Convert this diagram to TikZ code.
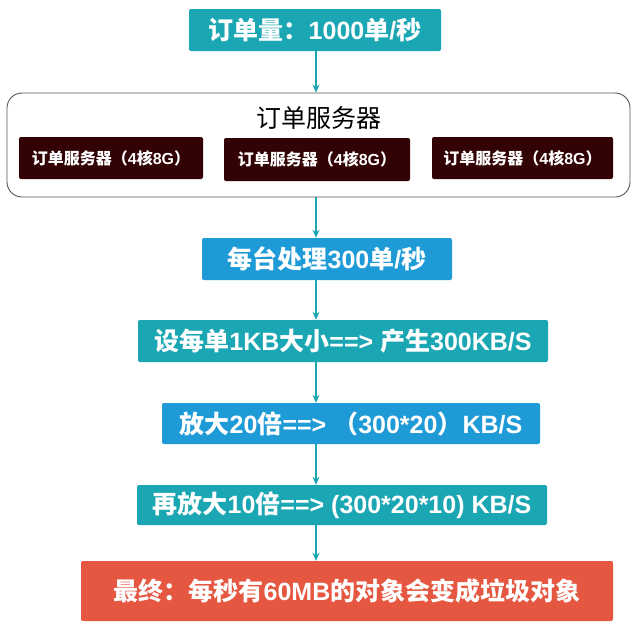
\documentclass[tikz,border=0pt]{standalone}
\usepackage{fontspec}
\setmainfont{Noto Sans CJK SC}
\newfontfamily\latinfont{Liberation Sans}
\newcommand{\lt}[1]{{\latinfont #1}}
\usetikzlibrary{arrows.meta}
\definecolor{tealc}{RGB}{26,166,178}
\definecolor{bluec}{RGB}{30,155,215}
\definecolor{darkc}{RGB}{50,2,4}
\definecolor{redc}{RGB}{229,87,64}
\definecolor{framec}{RGB}{85,85,85}
\tikzset{
  flowbox/.style={rectangle, rounded corners=2pt, text=white, inner sep=0pt,
    font=\fontsize{25}{28}\selectfont\bfseries, anchor=center},
  srvbox/.style={rectangle, rounded corners=2pt, fill=darkc, text=white, inner sep=0pt,
    font=\fontsize{16}{18}\selectfont\bfseries, minimum height=42pt},
  conn/.style={draw=tealc, line width=1.4pt, -{Stealth[length=8pt,width=7pt]}},
}
\begin{document}
\begin{tikzpicture}[x=1pt,y=-1pt]
\useasboundingbox (0,0) rectangle (638,625);
\fill[white] (0,0) rectangle (638,625);
\coordinate (ax) at (316,0);

\node[flowbox, fill=tealc, minimum width=252pt, minimum height=42pt] (top) at (315,30)
  {订单量：\lt{1000}单\lt{/}秒};

\node[draw=framec, line width=0.9pt, rounded corners=15pt, minimum width=623pt, minimum height=104pt, inner sep=0pt] (cont) at (318.5,145) {};
\node[font=\fontsize{25}{28}\selectfont, text=black] (title) at (319,118) {订单服务器};

\node[srvbox, minimum width=184pt] (s1) at (111,158) {订单服务器（\lt{4}核\lt{8G}）};
\node[srvbox, minimum width=186pt, minimum height=43pt] (s2) at (317,159.5) {订单服务器（\lt{4}核\lt{8G}）};
\node[srvbox, minimum width=181pt] (s3) at (522.5,158) {订单服务器（\lt{4}核\lt{8G}）};

\node[flowbox, fill=bluec, minimum width=250pt, minimum height=42pt] (b4) at (327,259)
  {每台处理\lt{300}单\lt{/}秒};
\node[flowbox, fill=tealc, minimum width=410pt, minimum height=42pt] (b5) at (343,341)
  {设每单\lt{1KB}大小\lt{==> }产生\lt{300KB/S}};
\node[flowbox, fill=bluec, minimum width=378pt, minimum height=41pt] (b6) at (351,423.5)
  {放大\lt{20}倍\lt{==> }（\lt{300*20}）\lt{KB/S}};
\node[flowbox, fill=tealc, minimum width=410pt, minimum height=40pt] (b7) at (342,505)
  {再放大\lt{10}倍\lt{==> (300*20*10) KB/S}};
\node[flowbox, fill=redc, minimum width=532pt, minimum height=60pt] (b8) at (347,591)
  {最终：每秒有\lt{60MB}的对象会变成垃圾对象};

\draw[conn] (top.south -| ax) -- (cont.north -| ax);
\draw[conn] (cont.south -| ax) -- (b4.north -| ax);
\draw[conn] (b4.south -| ax) -- (b5.north -| ax);
\draw[conn] (b5.south -| ax) -- (b6.north -| ax);
\draw[conn] (b6.south -| ax) -- (b7.north -| ax);
\draw[conn] (b7.south -| ax) -- (b8.north -| ax);
\end{tikzpicture}
\end{document}
